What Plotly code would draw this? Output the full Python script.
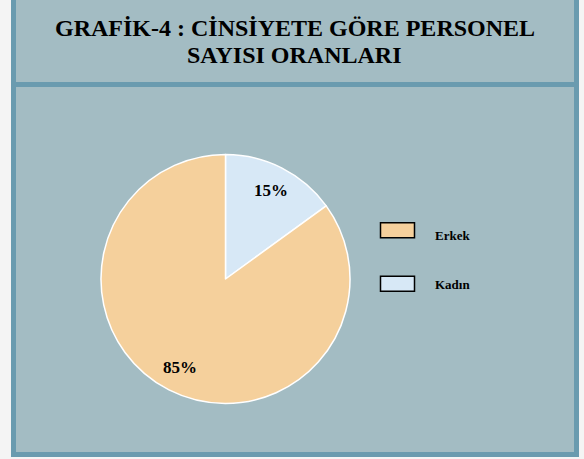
import math
import plotly.graph_objects as go

W, H = 584, 459

title_lines = ["GRAFİK-4 : CİNSİYETE GÖRE PERSONEL", "SAYISI ORANLARI"]
labels = ["Erkek", "Kadın"]
values = [85, 15]

COLORS = {
    "page": "#F4F4F4",
    "panel": "#A3BCC3",
    "border": "#6A9BAF",
    "erkek": "#F5D09C",
    "kadin": "#D7E8F6",
}
slice_colors = [COLORS["erkek"], COLORS["kadin"]]
SERIF = '"Liberation Serif", "Times New Roman", serif'

# pie geometry in pixels (from top-left)
CX, CY, R = 225.5, 279, 124.5


def px_x(x):
    return x / W


def px_y(y):
    # pixel from top -> paper fraction from bottom
    return 1 - y / H


fig = go.Figure()

# Kadın first, clockwise from 12 o'clock, like the original
pie_labels = labels[::-1]
pie_values = values[::-1]
pie_colors = slice_colors[::-1]

fig.add_trace(go.Pie(
    labels=pie_labels, values=pie_values, sort=False, direction="clockwise",
    rotation=0,
    marker=dict(colors=pie_colors, line=dict(color="white", width=1.5)),
    textinfo="none",
    domain=dict(x=[px_x(CX - R), px_x(CX + R)], y=[px_y(CY + R), px_y(CY - R)]),
    showlegend=False, hoverinfo="skip",
))

shapes = [
    # outer frame
    dict(type="rect", x0=px_x(13.5), x1=px_x(576.5), y0=px_y(454.5), y1=px_y(-5),
         line=dict(color=COLORS["border"], width=5), fillcolor=COLORS["panel"], layer="below"),
    # divider between title and chart
    dict(type="line", x0=px_x(11), x1=px_x(579), y0=px_y(84.5), y1=px_y(84.5),
         line=dict(color=COLORS["border"], width=5), layer="below"),
]

annotations = []
for line, ty in zip(title_lines, [28, 55]):
    annotations.append(dict(text="<b>" + line + "</b>", x=px_x(294.5), y=px_y(ty),
                            xref="paper", yref="paper", showarrow=False,
                            xanchor="center", yanchor="middle",
                            font=dict(family=SERIF, size=24, color="black")))

# percent labels sitting at ~0.8 of the radius, on each slice's mid angle
total = sum(pie_values)
cum = 0
for v in pie_values:
    mid = (cum + v / 2) / total * 2 * math.pi
    cum += v
    lx = CX + 0.8 * R * math.sin(mid)
    ly = CY - 0.8 * R * math.cos(mid)
    annotations.append(dict(text="<b>%d%%</b>" % round(100 * v / total), x=px_x(lx), y=px_y(ly),
                            xref="paper", yref="paper", showarrow=False,
                            xanchor="center", yanchor="middle",
                            font=dict(family=SERIF, size=17, color="black")))

# hand-drawn legend, rectangular swatches like the original
box_y = [230.3, 283.7]
text_y = [235, 284]
for lab, col, by, ty in zip(labels, slice_colors, box_y, text_y):
    shapes.append(dict(type="rect", x0=px_x(380.5), x1=px_x(414.5),
                       y0=px_y(by + 7.5), y1=px_y(by - 7.5),
                       line=dict(color="black", width=1.5), fillcolor=col))
    annotations.append(dict(text="<b>" + lab + "</b>", x=px_x(433), y=px_y(ty),
                            xref="paper", yref="paper", showarrow=False,
                            xanchor="left", yanchor="middle",
                            font=dict(family=SERIF, size=13, color="black")))

fig.update_layout(
    width=W, height=H,
    margin=dict(l=0, r=0, t=0, b=0),
    paper_bgcolor=COLORS["page"],
    plot_bgcolor=COLORS["page"],
    shapes=shapes,
    annotations=annotations,
    showlegend=False,
)

fig.write_html("out.html", config=dict(displayModeBar=False),
               post_script="document.body.style.margin='0';")
